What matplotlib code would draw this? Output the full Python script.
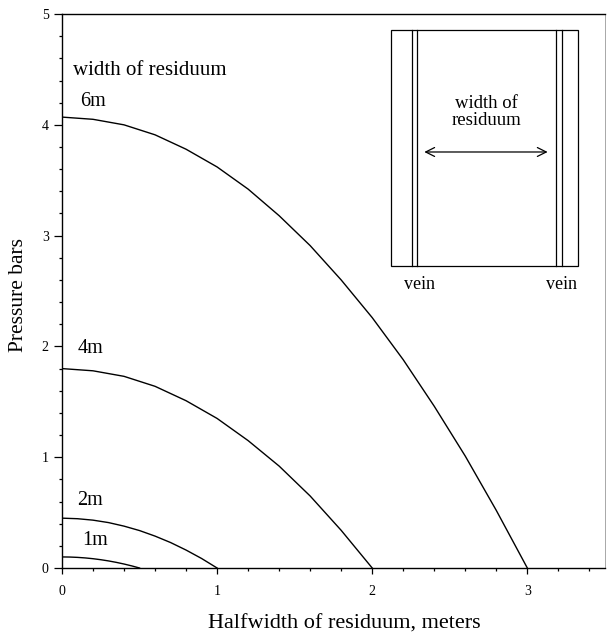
import numpy as np
import matplotlib
matplotlib.use("Agg")
import matplotlib.pyplot as plt
from matplotlib.patches import Rectangle
from matplotlib.ticker import MultipleLocator

plt.rcParams['font.family'] = ['Liberation Serif', 'DejaVu Serif']

# pressure profiles across the residuum (halfwidth in m, pressure in bar)
x_6m = [0.0, 0.2, 0.4, 0.6, 0.8, 1.0, 1.2, 1.4, 1.6, 1.8, 2.0, 2.2, 2.4, 2.6, 2.8, 3.0]
p_6m = [4.07, 4.05, 4.00, 3.91, 3.78, 3.62, 3.42, 3.18, 2.91, 2.60, 2.26, 1.88, 1.46, 1.01, 0.52, 0.0]

x_4m = [0.0, 0.2, 0.4, 0.6, 0.8, 1.0, 1.2, 1.4, 1.6, 1.8, 2.0]
p_4m = [1.80, 1.78, 1.73, 1.64, 1.51, 1.35, 1.15, 0.92, 0.65, 0.34, 0.0]

x_2m = [0.0, 0.1, 0.2, 0.3, 0.4, 0.5, 0.6, 0.7, 0.8, 0.9, 1.0]
p_2m = [0.45, 0.445, 0.432, 0.41, 0.378, 0.338, 0.288, 0.23, 0.162, 0.086, 0.0]

x_1m = [0.0, 0.05, 0.1, 0.15, 0.2, 0.25, 0.3, 0.35, 0.4, 0.45, 0.5]
p_1m = [0.10, 0.099, 0.096, 0.091, 0.084, 0.075, 0.064, 0.051, 0.036, 0.019, 0.0]

curve_labels = ["6m", "4m", "2m", "1m"]

fig = plt.figure(figsize=(6.1, 6.36), dpi=100)
ax = fig.add_axes([0.1016, 0.1069, 0.890, 0.871])

for xs, ps in [(x_6m, p_6m), (x_4m, p_4m), (x_2m, p_2m), (x_1m, p_1m)]:
    ax.plot(xs, ps, color="black", lw=1.0)

ax.set_xlim(0, 3.5)
ax.set_ylim(0, 5)
ax.xaxis.set_major_locator(MultipleLocator(1))
ax.xaxis.set_minor_locator(MultipleLocator(0.2))
ax.yaxis.set_major_locator(MultipleLocator(1))
ax.yaxis.set_minor_locator(MultipleLocator(0.2))
ax.tick_params(which="both", direction="out", width=0.9, labelsize=10)
ax.tick_params(axis="x", which="major", length=4, pad=8)
ax.tick_params(axis="x", which="minor", length=2.5)
ax.tick_params(axis="y", which="major", length=5.5, pad=4)
ax.tick_params(axis="y", which="minor", length=2.5)
ax.spines["right"].set_color("#9a9a9a")
ax.spines["right"].set_linewidth(0.6)
for s in ["left", "bottom", "top"]:
    ax.spines[s].set_linewidth(1.0)

fig.text(0.564, 0.019, "Halfwidth of residuum, meters", fontsize=16,
         ha="center", va="center")
fig.text(0.031, 0.536, "Pressure bars", fontsize=15.5, rotation=90,
         ha="center", va="center")

# curve labels
ax.text(0.07, 4.49, "width of residuum", fontsize=15, va="center")
label_pos = [(0.12, 4.21), (0.10, 1.98), (0.10, 0.61), (0.13, 0.25)]
for lab, (lx, ly) in zip(curve_labels, label_pos):
    ax.text(lx, ly, lab, fontsize=14.5, va="center")

# sketch of the residuum between two veins
ax.add_patch(Rectangle((2.118, 2.726), 3.329 - 2.118, 4.856 - 2.726,
                       fill=False, lw=0.9, ec="black"))
for vx in [2.254, 2.286, 3.187, 3.226]:
    ax.plot([vx, vx], [2.726, 4.856], color="black", lw=0.9)
ax.annotate("", xy=(2.318, 3.755), xytext=(3.149, 3.755),
            arrowprops=dict(arrowstyle="<->", lw=0.9, color="black",
                            mutation_scale=16))
ax.text(2.737, 4.12, "width of\nresiduum", fontsize=13.5, ha="center",
        va="center", linespacing=1.0)
ax.text(2.302, 2.56, "vein", fontsize=13, ha="center", va="center")
ax.text(3.220, 2.56, "vein", fontsize=13, ha="center", va="center")

fig.savefig("out.png", dpi=100)
